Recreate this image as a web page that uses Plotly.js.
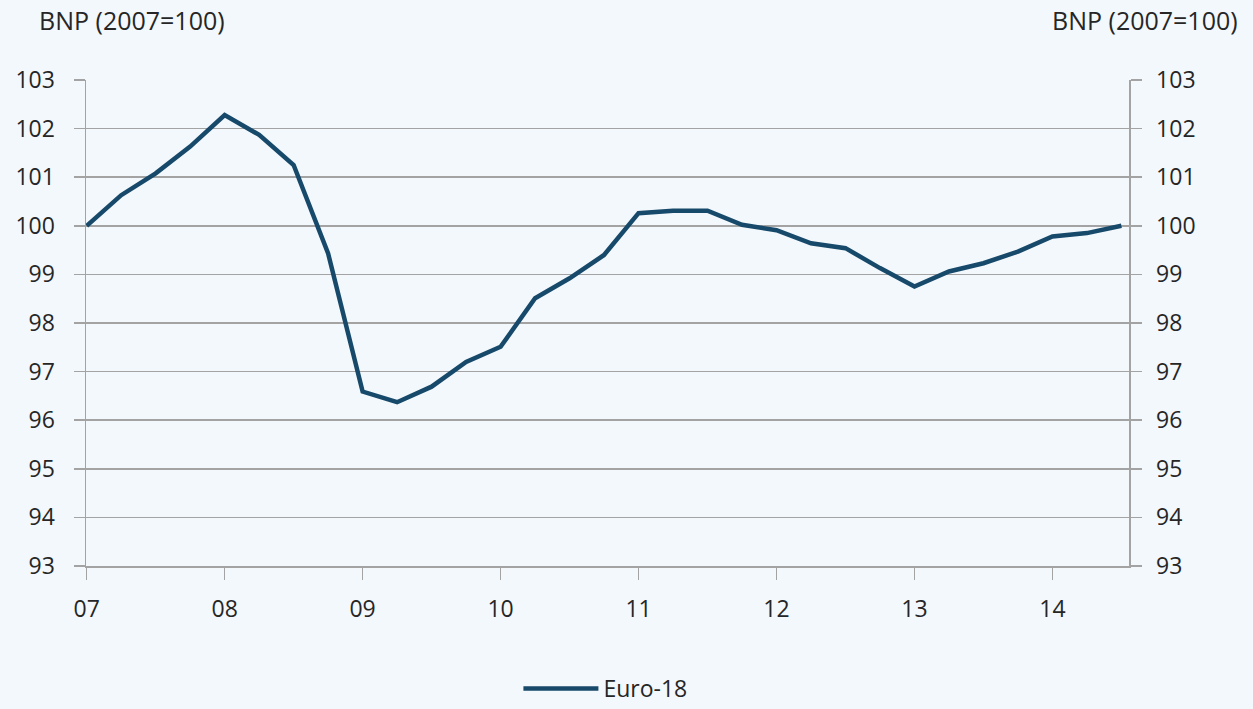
<!DOCTYPE html>
<html>
<head>
<meta charset="utf-8">
<script src="https://cdn.plot.ly/plotly-3.0.1.min.js"></script>
<style>
  html, body { margin: 0; padding: 0; background: #f3f8fc; }
  #chart { width: 1253px; height: 709px; }
</style>
</head>
<body>
<div id="chart"></div>
<script>
// Quarterly periods (decimal years), 2007 Q1 .. 2014 Q3
const periods = [
  2007.00, 2007.25, 2007.50, 2007.75,
  2008.00, 2008.25, 2008.50, 2008.75,
  2009.00, 2009.25, 2009.50, 2009.75,
  2010.00, 2010.25, 2010.50, 2010.75,
  2011.00, 2011.25, 2011.50, 2011.75,
  2012.00, 2012.25, 2012.50, 2012.75,
  2013.00, 2013.25, 2013.50, 2013.75,
  2014.00, 2014.25, 2014.50
];
// BNP index, Euro-18 (2007 = 100)
const euro18 = [
  100.00, 100.63, 101.08, 101.63,
  102.28, 101.87, 101.25, 99.43,
  96.59, 96.37, 96.69, 97.20,
  97.51, 98.51, 98.92, 99.40,
  100.26, 100.31, 100.31, 100.02,
  99.91, 99.64, 99.54, 99.13,
  98.75, 99.06, 99.23, 99.47,
  99.78, 99.85, 100.00
];
const yearTicks = [2007, 2008, 2009, 2010, 2011, 2012, 2013, 2014];
const yearLabels = ["07", "08", "09", "10", "11", "12", "13", "14"];
const yTicks = [93, 94, 95, 96, 97, 98, 99, 100, 101, 102, 103];
const seriesName = "Euro-18";
const axisTitle = "BNP (2007=100)";

const FONT = "Open Sans, Noto Sans, sans-serif";
const TXT = "#262626";
const GRID = "#a3a3a3";
const BG = "#f3f8fc";

const traces = [
  {
    x: periods, y: euro18, type: "scatter", mode: "lines",
    name: seriesName,
    line: { color: "#17496b", width: 4.5 },
    xaxis: "x", yaxis: "y"
  },
  {
    x: periods, y: euro18, type: "scatter", mode: "lines",
    showlegend: false, hoverinfo: "skip",
    line: { color: "rgba(0,0,0,0)", width: 0 },
    xaxis: "x", yaxis: "y2"
  }
];

const yCommon = {
  range: [93, 103],
  tickvals: yTicks,
  ticks: "outside", ticklen: 11, tickwidth: 1.5, tickcolor: GRID,
  showline: true, linecolor: GRID, linewidth: 1.5,
  tickfont: { family: FONT, size: 23, color: TXT },
  zeroline: false
};

const layout = {
  width: 1253, height: 709,
  paper_bgcolor: BG, plot_bgcolor: BG,
  margin: { l: 86, r: 124, t: 80, b: 143, autoexpand: false },
  showlegend: true,
  legend: {
    orientation: "h", x: 0.498, xanchor: "center", y: -0.252, yanchor: "middle",
    font: { family: FONT, size: 23, color: TXT },
    bgcolor: "rgba(0,0,0,0)", itemwidth: 75
  },
  xaxis: {
    range: [2006.995, 2014.555],
    tickvals: yearTicks, ticktext: yearLabels,
    ticks: "outside", ticklen: 12, tickwidth: 1.5, tickcolor: GRID,
    showline: true, linecolor: GRID, linewidth: 1.5,
    showgrid: false, zeroline: false,
    tickfont: { family: FONT, size: 23, color: TXT },
    ticklabelstandoff: 10
  },
  yaxis: Object.assign({}, yCommon, {
    side: "left",
    showgrid: true, gridcolor: GRID, gridwidth: 1.5,
    ticklabelstandoff: 14
  }),
  yaxis2: Object.assign({}, yCommon, {
    side: "right", overlaying: "y",
    showgrid: false,
    ticklabelstandoff: 10
  }),
  annotations: [
    {
      text: axisTitle, xref: "paper", yref: "paper",
      x: -0.047, xanchor: "left", y: 1.1235, yanchor: "middle",
      showarrow: false, font: { family: FONT, size: 25, color: TXT }
    },
    {
      text: axisTitle, xref: "paper", yref: "paper",
      x: 1.1064, xanchor: "right", y: 1.1235, yanchor: "middle",
      showarrow: false, font: { family: FONT, size: 25, color: TXT }
    }
  ]
};

Plotly.newPlot("chart", traces, layout, { displayModeBar: false, staticPlot: true });
</script>
</body>
</html>
